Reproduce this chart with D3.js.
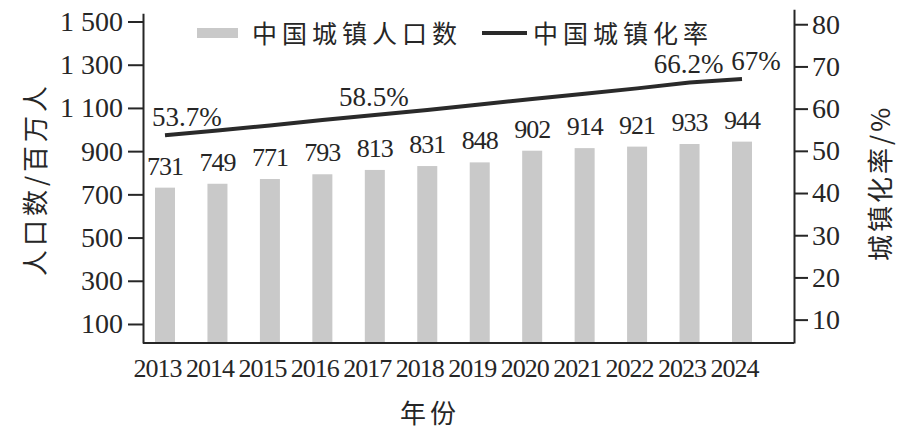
<!DOCTYPE html>
<html>
<head>
<meta charset="utf-8">
<script src="https://cdn.jsdelivr.net/npm/d3@7/dist/d3.min.js"></script>
<style>
  html, body { margin: 0; padding: 0; background: #ffffff; }
  svg { display: block; }
</style>
</head>
<body>
<svg id="chart" width="914" height="432"></svg>
<script>
// ---- data ----
const years = ["2013","2014","2015","2016","2017","2018","2019","2020","2021","2022","2023","2024"];
const urbanPopulation = [731, 749, 771, 793, 813, 831, 848, 902, 914, 921, 933, 944]; // 百万人
const urbanRate = [53.7, 54.8, 56.0, 57.3, 58.5, 59.7, 61.0, 62.3, 63.5, 64.8, 66.2, 67.0]; // %
const rateLabelYears = ["2013", "2017", "2023", "2024"];
const leftTicks = [100, 300, 500, 700, 900, 1100, 1300, 1500];
const rightTicks = [10, 20, 30, 40, 50, 60, 70, 80];
const legendLabels = ["中国城镇人口数", "中国城镇化率"];
const leftTitle = "人口数/百万人";
const rightTitle = "城镇化率/%";
const xTitle = "年份";

// ---- styling ----
const ink = "#262626";
const barFill = "#c9c9c9";
const serif = "'Liberation Serif', 'Times New Roman', serif";
const cjk = "'Noto Sans CJK SC', 'Noto Sans', sans-serif";

const svg = d3.select("#chart");
svg.append("rect").attr("width", 914).attr("height", 432).attr("fill", "#fff");

const plotLeft = 143, plotRight = 794, plotBottom = 343;

const x = d3.scalePoint().domain(years).range([165, 742]);
const yL = d3.scaleLinear().domain([12, 1538]).range([plotBottom, 13.3]);
const yR = d3.scaleLinear().domain([4.46, 83.54]).range([plotBottom, 9.3]);

const fmtLeft = v => v >= 1000 ? d3.format(",")(v).replace(",", " ") : String(v);

// bars
svg.append("g").selectAll("rect")
  .data(years.map((y, i) => ({ year: y, v: urbanPopulation[i] })))
  .join("rect")
  .attr("x", d => x(d.year) - 10)
  .attr("width", 20)
  .attr("y", d => yL(d.v))
  .attr("height", d => plotBottom - yL(d.v))
  .attr("fill", barFill);

// bar value labels
svg.append("g").selectAll("text")
  .data(years.map((y, i) => ({ year: y, v: urbanPopulation[i] })))
  .join("text")
  .attr("x", d => x(d.year))
  .attr("y", d => yL(d.v) - 13)
  .attr("text-anchor", "middle")
  .attr("font-family", serif)
  .attr("font-size", 26)
  .attr("letter-spacing", "-1px")
  .attr("fill", ink)
  .text(d => d.v);

// left axis
const gL = svg.append("g")
  .attr("transform", `translate(${plotLeft},0)`)
  .call(d3.axisLeft(yL).tickValues(leftTicks).tickSize(15).tickPadding(5).tickSizeOuter(0).tickFormat(fmtLeft));
gL.selectAll("text").attr("font-family", serif).attr("font-size", 28).attr("fill", ink);

// right axis
const gR = svg.append("g")
  .attr("transform", `translate(${plotRight},0)`)
  .call(d3.axisRight(yR).tickValues(rightTicks).tickSize(14).tickPadding(4).tickSizeOuter(0));
gR.selectAll("text").attr("font-family", serif).attr("font-size", 28).attr("fill", ink);

// bottom axis
const gB = svg.append("g")
  .attr("transform", `translate(0,${plotBottom})`)
  .call(d3.axisBottom(x).tickSize(0).tickPadding(16));
gB.select(".domain").remove();
gB.selectAll("text")
  .attr("font-family", serif).attr("font-size", 26).attr("letter-spacing", "-1px")
  .attr("dx", -8).attr("fill", ink);
svg.append("line")
  .attr("x1", plotLeft).attr("x2", plotRight)
  .attr("y1", plotBottom).attr("y2", plotBottom)
  .attr("stroke", ink).attr("stroke-width", 2);

[gL, gR].forEach(g => {
  g.selectAll(".domain, .tick line").attr("stroke", ink).attr("stroke-width", 2);
});

// rate line
const line = d3.line().x((d, i) => x(years[i])).y(d => yR(d));
svg.append("path")
  .datum(urbanRate)
  .attr("d", line)
  .attr("fill", "none")
  .attr("stroke", "#2a2a2a")
  .attr("stroke-width", 4);

// rate labels
svg.append("g").selectAll("text")
  .data(rateLabelYears.map(y => ({ year: y, v: urbanRate[years.indexOf(y)] })))
  .join("text")
  .attr("x", d => {
    const i = years.indexOf(d.year);
    if (i === 0) return x(d.year) - 13;
    if (i === years.length - 1) return x(d.year) + 14;
    return x(d.year) - 1;
  })
  .attr("y", d => yR(d.v) - 9)
  .attr("text-anchor", d => years.indexOf(d.year) === 0 ? "start" : "middle")
  .attr("font-family", serif)
  .attr("font-size", 27)
  .attr("fill", ink)
  .text(d => d.v + "%");

// legend
const lg = svg.append("g");
lg.append("rect").attr("x", 197).attr("y", 28).attr("width", 41).attr("height", 10).attr("fill", barFill);
lg.append("text").attr("x", 252).attr("y", 31.5).attr("dominant-baseline", "central")
  .attr("font-family", cjk).attr("font-size", 25).attr("letter-spacing", "5px").attr("fill", ink)
  .text(legendLabels[0]);
lg.append("line").attr("x1", 482).attr("x2", 527).attr("y1", 33).attr("y2", 33)
  .attr("stroke", "#2a2a2a").attr("stroke-width", 4);
lg.append("text").attr("x", 533).attr("y", 31.5).attr("dominant-baseline", "central")
  .attr("font-family", cjk).attr("font-size", 25).attr("letter-spacing", "5px").attr("fill", ink)
  .text(legendLabels[1]);

// axis titles
svg.append("text")
  .attr("transform", "translate(33,179) rotate(-90)")
  .attr("text-anchor", "middle").attr("dominant-baseline", "central")
  .attr("font-family", cjk).attr("font-size", 26).attr("letter-spacing", "4px").attr("fill", ink)
  .text(leftTitle);
svg.append("text")
  .attr("transform", "translate(878,183) rotate(-90)")
  .attr("text-anchor", "middle").attr("dominant-baseline", "central")
  .attr("font-family", cjk).attr("font-size", 26).attr("letter-spacing", "3px").attr("fill", ink)
  .text(rightTitle);
svg.append("text")
  .attr("x", 430).attr("y", 411)
  .attr("text-anchor", "middle").attr("dominant-baseline", "central")
  .attr("font-family", cjk).attr("font-size", 26).attr("letter-spacing", "4px").attr("fill", ink)
  .text(xTitle);
</script>
</body>
</html>
